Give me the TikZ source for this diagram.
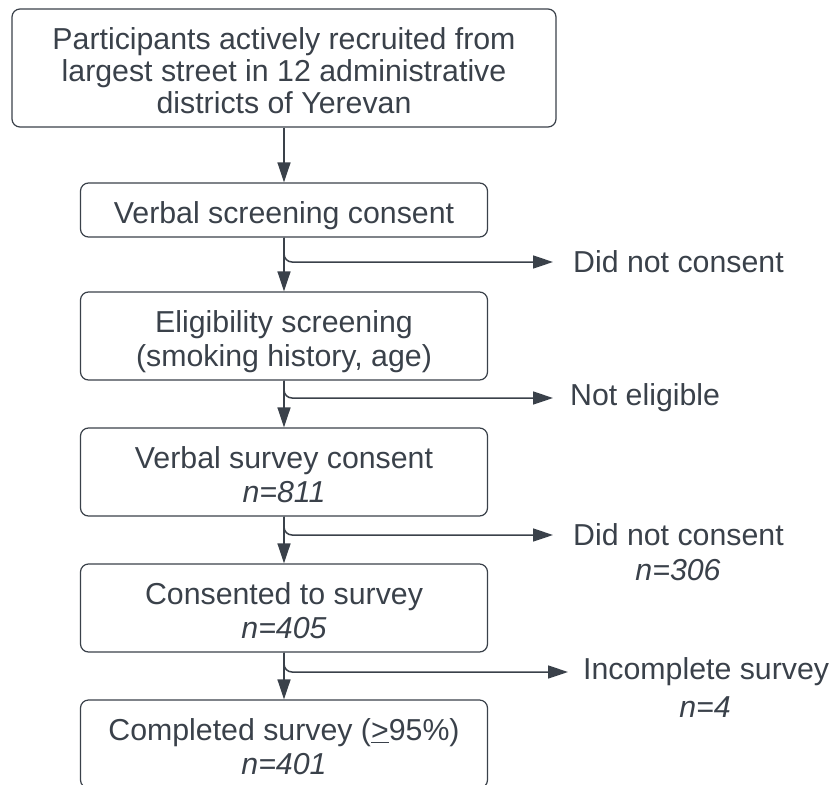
\documentclass[tikz,border=0pt]{standalone}
\usepackage{fontspec}
\setmainfont{Liberation Sans}
\usetikzlibrary{arrows.meta,positioning}
\definecolor{ink}{HTML}{3A414A}
% box text, set a little low as in the chart
\newcommand{\boxtext}[1]{\raisebox{-7pt}[\height][\depth]{\begin{tabular}{@{}c@{}}#1\end{tabular}}}

\begin{document}
\begin{tikzpicture}[x=1pt,y=-1pt,
  font=\fontsize{30.3}{33.5}\selectfont,
  box/.style={draw=ink, line width=1.2pt, rounded corners=8pt, text=ink,
    minimum width=407pt, minimum height=88pt, inner sep=0pt},
  flow/.style={draw=ink, line width=1.5pt, rounded corners=8pt, -{Triangle[length=20pt,width=13pt]}},
  exit/.style={text=ink, inner sep=0pt}]
\useasboundingbox (0,0) rectangle (829,784);
\node [box, minimum width=544pt, minimum height=118pt, font=\fontsize{30.3}{32}\selectfont] (recruit) at (284,68) {\boxtext{Participants actively recruited from\\largest street in 12 administrative\\districts of Yerevan}};
\node [box, minimum height=54pt] (screen) at (284,210) {\boxtext{Verbal screening consent}};
\node [box] (elig) at (284,336) {\boxtext{Eligibility screening\\(smoking history, age)}};
\node [box] (survey) at (284,472) {\boxtext{Verbal survey consent\\\textit{n=811}}};
\node [box] (consented) at (284,608) {\boxtext{Consented to survey\\\textit{n=405}}};
\node [box] (completed) at (284,744) {\boxtext{Completed survey (\underline{>}95\%)\\\textit{n=401}}};
% exits
\node [exit, anchor=west] (noconsent) at (573,262) {Did not consent};
\node [exit, anchor=west] (noteligible) at (570,398) {Not eligible};
\node [exit, anchor=west] (declined) at (573,535) {Did not consent};
\node [exit] (declinedn) at (678,570) {\textit{n=306}};
\node [exit, anchor=west] (incomplete) at (583,672) {Incomplete survey};
\node [exit] (incompleten) at (705,707) {\textit{n=4}};
% main flow
\foreach \a/\b in {recruit/screen, screen/elig, elig/survey, survey/consented, consented/completed}
  \draw [flow] (\a) -- (\b);
% branches
\draw [flow, shorten >=20pt] (screen.south) |- (noconsent.west);
\draw [flow, shorten >=17pt] (elig.south) |- (noteligible.west);
\draw [flow, shorten >=20pt] (survey.south) |- (declined.west);
\draw [flow, shorten >=15pt] (consented.south) |- (incomplete.west);
\end{tikzpicture}
\end{document}
